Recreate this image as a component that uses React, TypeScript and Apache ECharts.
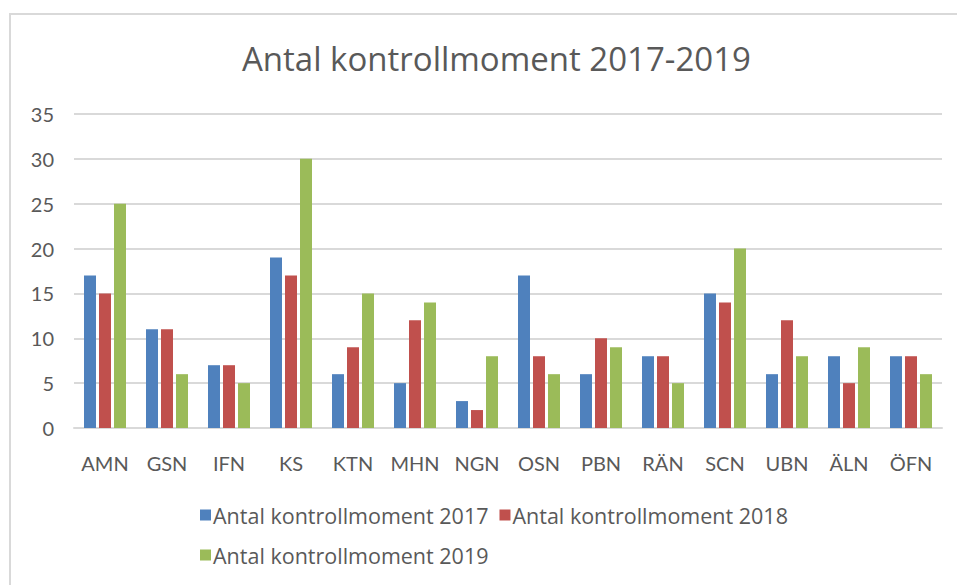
import React, { useEffect, useRef } from "react";
import * as echarts from "echarts";

const categories = ["AMN", "GSN", "IFN", "KS", "KTN", "MHN", "NGN", "OSN", "PBN", "RÄN", "SCN", "UBN", "ÄLN", "ÖFN"];
const values2017 = [17, 11, 7, 19, 6, 5, 3, 17, 6, 8, 15, 6, 8, 8];
const values2018 = [15, 11, 7, 17, 9, 12, 2, 8, 10, 8, 14, 12, 5, 8];
const values2019 = [25, 6, 5, 30, 15, 14, 8, 6, 9, 5, 20, 8, 9, 6];
const seriesNames = ["Antal kontrollmoment 2017", "Antal kontrollmoment 2018", "Antal kontrollmoment 2019"];
const titleText = "Antal kontrollmoment 2017-2019";

const FONT = "Lato, 'Noto Sans', sans-serif";
const FONT2 = "'Open Sans', 'Noto Sans', sans-serif";
const TXT = "#595959";

export default function App() {
  const ref = useRef<HTMLDivElement>(null);
  useEffect(() => {
    document.body.style.margin = "0";
    const chart = echarts.init(ref.current!, undefined, { renderer: "svg" });
    const bar = (name: string, data: number[], color: string) => ({
      name,
      type: "bar",
      data,
      barWidth: 12,
      barGap: "25%",
      itemStyle: { color },
    });
    const legendText = { fontFamily: FONT2, fontSize: 21.5, color: TXT, padding: [0, 0, 0, -3] };
    chart.setOption({
      animation: false,
      backgroundColor: "#ffffff",
      title: {
        text: titleText,
        left: 237,
        top: 37,
        textStyle: { fontFamily: FONT2, fontSize: 33, fontWeight: "normal", color: TXT },
      },
      graphic: [
        {
          type: "rect",
          shape: { x: 10, y: 14, width: 980, height: 620 },
          style: { fill: "none", stroke: "#d9d9d9", lineWidth: 2 },
          silent: true,
        },
      ],
      legend: [
        {
          data: [seriesNames[0], seriesNames[1]],
          left: 195,
          top: 499,
          itemWidth: 11,
          itemHeight: 11,
          itemGap: 11,
          icon: "rect",
          textStyle: legendText,
        },
        {
          data: [seriesNames[2]],
          left: 195,
          top: 539,
          itemWidth: 11,
          itemHeight: 11,
          icon: "rect",
          textStyle: legendText,
        },
      ],
      grid: { left: 74, right: 15, top: 114, bottom: 157, containLabel: false },
      xAxis: {
        type: "category",
        data: categories,
        axisLine: { lineStyle: { color: "#d9d9d9", width: 2 } },
        axisTick: { show: false },
        axisLabel: { fontFamily: FONT, fontSize: 20, color: TXT, margin: 25, interval: 0 },
      },
      yAxis: {
        type: "value",
        min: 0,
        max: 35,
        interval: 5,
        axisLine: { show: false },
        axisTick: { show: false },
        splitLine: { lineStyle: { color: "#d9d9d9", width: 2 } },
        axisLabel: { fontFamily: FONT, fontSize: 20, color: TXT, margin: 20 },
      },
      series: [
        bar(seriesNames[0], values2017, "#4f81bd"),
        bar(seriesNames[1], values2018, "#c0504d"),
        bar(seriesNames[2], values2019, "#9bbb59"),
      ],
    });
    return () => chart.dispose();
  }, []);
  return <div ref={ref} style={{ width: 957, height: 585 }} />;
}
